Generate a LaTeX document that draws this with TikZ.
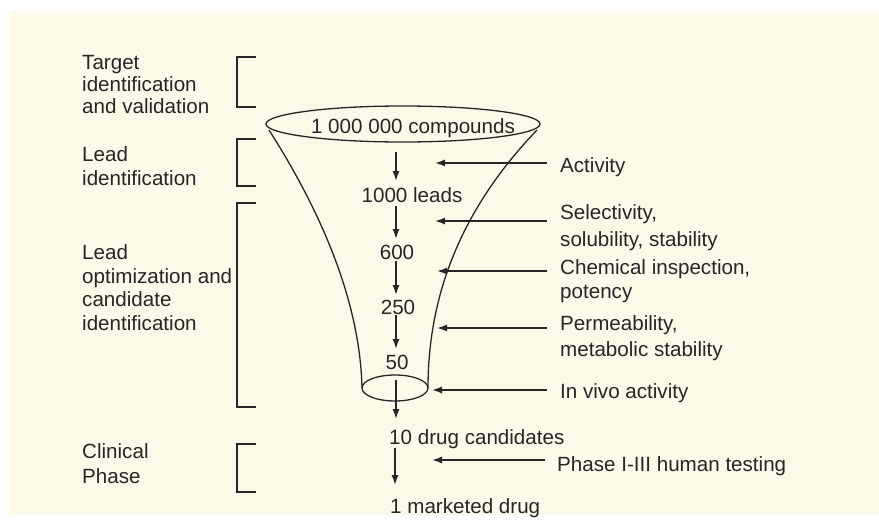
\documentclass[tikz,border=0pt]{standalone}
\usepackage{fontspec}
\setmainfont{Liberation Sans}
\usetikzlibrary{arrows.meta}
\definecolor{cream}{HTML}{FDF9E8}
\definecolor{ink}{HTML}{262626}
\begin{document}
\begin{tikzpicture}[x=1pt,y=-1pt,
  lbl/.style={font=\fontsize{20.6}{23}\selectfont, text=ink, inner sep=0pt, anchor=base west},
  num/.style={font=\fontsize{20.6}{23}\selectfont, text=ink, inner sep=0pt, anchor=base},
  brk/.style={draw=ink, line width=1.8pt},
  fun/.style={draw=ink, line width=1.3pt},
  arr/.style={draw=ink, line width=1.4pt, -{Latex[length=10pt,width=7pt]}}]
\useasboundingbox (0,0) rectangle (879,522);
\fill[white] (0,0) rectangle (879,522);
\fill[cream] (9,11) rectangle (879,515);

% left stage labels
\node[lbl] (t1) at (82,69) {Target};
\node[lbl] (t2) at (82,91) {identification};
\node[lbl] (t3) at (82,113) {and validation};
\node[lbl] (l1) at (82,161) {Lead};
\node[lbl] (l2) at (82,185) {identification};
\node[lbl] (o1) at (82,259) {Lead};
\node[lbl] (o2) at (82,283) {optimization and};
\node[lbl] (o3) at (82,306) {candidate};
\node[lbl] (o4) at (82,330) {identification};
\node[lbl] (c1) at (82,458) {Clinical};
\node[lbl] (c2) at (82,483) {Phase};

% brackets
\draw[brk] (256,57) -- (237,57) -- (237,107) -- (256,107);
\draw[brk] (256,139) -- (237,139) -- (237,186) -- (256,186);
\draw[brk] (256,203) -- (237,203) -- (237,407) -- (256,407);
\draw[brk] (256,444) -- (237,444) -- (237,492) -- (256,492);

% funnel
\draw[fun] (403,124) ellipse [x radius=137, y radius=18];
\coordinate (tl) at (269,130);
\coordinate (tr) at (537,130);
\coordinate (bl) at (362,388);
\coordinate (br) at (428,388);
\draw[fun] (tl) .. controls (320,210) and (360,300) .. (bl);
\draw[fun] (tr) .. controls (465,205) and (428,290) .. (br);
\draw[fun] (395,388) ellipse [x radius=33, y radius=13];

% counts
\node[num] (n0) at (413,133) {1 000 000 compounds};
\node[num] (n1) at (412,202) {1000 leads};
\node[num] (n2) at (397,259) {600};
\node[num] (n3) at (398,314) {250};
\node[num] (n4) at (397,369) {50};
\node[lbl] (n5) at (389,444) {10 drug candidates};
\node[lbl] (n6) at (390,513) {1 marketed drug};

% downward arrows
\coordinate (d0a) at (396,152); \coordinate (d0b) at (396,181);
\coordinate (d1a) at (396,206); \coordinate (d1b) at (396,239);
\coordinate (d2a) at (396,261); \coordinate (d2b) at (396,295);
\coordinate (d3a) at (396,315); \coordinate (d3b) at (396,349);
\coordinate (d4a) at (396,380); \coordinate (d4b) at (396,419);
\coordinate (d5a) at (395,448); \coordinate (d5b) at (395,485);
\draw[arr] (d0a) -- (d0b);
\draw[arr] (d1a) -- (d1b);
\draw[arr] (d2a) -- (d2b);
\draw[arr] (d3a) -- (d3b);
\draw[arr] (d4a) -- (d4b);
\draw[arr] (d5a) -- (d5b);

% right criteria
\node[lbl] (r1) at (560,172) {Activity};
\node[lbl] (r2a) at (560,219) {Selectivity,};
\node[lbl] (r2b) at (560,246) {solubility, stability};
\node[lbl] (r3a) at (560,274) {Chemical inspection,};
\node[lbl] (r3b) at (560,298) {potency};
\node[lbl] (r4a) at (560,330) {Permeability,};
\node[lbl] (r4b) at (560,356) {metabolic stability};
\node[lbl] (r5) at (560,398) {In vivo activity};
\node[lbl] (r6) at (557,471) {Phase I-III human testing};

\coordinate (s1) at (547,163); \coordinate (e1) at (435,163);
\coordinate (s2) at (547,221); \coordinate (e2) at (435,221);
\coordinate (s3) at (547,271); \coordinate (e3) at (437,271);
\coordinate (s4) at (547,328); \coordinate (e4) at (437,328);
\coordinate (s5) at (547,390); \coordinate (e5) at (432,390);
\coordinate (s6) at (545,460); \coordinate (e6) at (432,460);
\draw[arr] (s1) -- (e1);
\draw[arr] (s2) -- (e2);
\draw[arr] (s3) -- (e3);
\draw[arr] (s4) -- (e4);
\draw[arr] (s5) -- (e5);
\draw[arr] (s6) -- (e6);
\end{tikzpicture}
\end{document}
